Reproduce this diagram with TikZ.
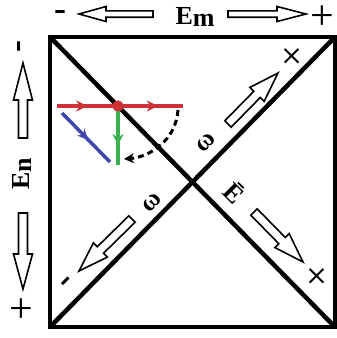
\documentclass[tikz,border=0pt]{standalone}
\usepackage{fontspec}
\setmainfont{Liberation Serif}
\usetikzlibrary{arrows.meta,decorations.markings}
\definecolor{rd}{RGB}{205,50,55}
\definecolor{gn}{RGB}{60,175,80}
\definecolor{bl}{RGB}{65,70,170}
\newcommand\blockarr[7]{%
  \pgfmathsetmacro\bang{atan2(-(#4-#2),#3-#1)}%
  \pgfmathsetmacro\blen{veclen(#3-#1,#4-#2)}%
  \pgfmathsetmacro\bhb{\blen-#7}%
  \begin{scope}[shift={(#1,#2)},rotate=\bang]
    \draw[blk] (0pt,#5pt) -- (\bhb pt,#5pt) -- (\bhb pt,#6pt) -- (\blen pt,0pt)
      -- (\bhb pt,-#6pt) -- (\bhb pt,-#5pt) -- (0pt,-#5pt) -- cycle;
  \end{scope}}
\begin{document}
\begin{tikzpicture}[x=1pt,y=-1pt,
  frame/.style={line width=4.5pt,line join=miter},
  blk/.style={draw,line width=1.6pt,fill=white,line join=miter},
  sign/.style={font=\bfseries\fontsize{36}{36}\selectfont,inner sep=0pt},
  plus/.style={font=\fontsize{42}{42}\selectfont,inner sep=0pt},
  lab/.style={font=\bfseries\fontsize{26}{26}\selectfont,inner sep=0pt},
  omg/.style={font=\bfseries\fontsize{26}{26}\selectfont,inner sep=0pt},
  tip/.style={decoration={markings,#1},postaction=decorate}]
\useasboundingbox (0,0) rectangle (337,338);
\fill[white] (0,0) rectangle (337,338);
% frame
\coordinate (TL) at (50,37);
\coordinate (TR) at (335,37);
\coordinate (BL) at (50,327);
\coordinate (BR) at (335,327);
\draw[frame] (TL) rectangle (BR);
\draw[frame] (TL) -- (BR);
\draw[frame] (BL) -- (TR);
% top axis
\node[sign] (mt) at (60,15) {-};
\blockarr{153}{14}{79}{14}{3.2}{7.5}{27}
\node[lab] (Em) at (195,17) {E\raisebox{-2pt}{m}};
\blockarr{228}{14}{306}{14}{3.2}{7.5}{29}
\node[plus] (pt) at (322,18) {+};
% left axis
\node[sign,rotate=90] (ml) at (22,47) {-};
\blockarr{23}{138}{23}{63}{4.5}{9.5}{37}
\node[lab,rotate=90] (En) at (22,174) {E\raisebox{-2pt}{n}};
\blockarr{23}{213}{23}{289}{4.5}{9.5}{35}
\node[plus] (pl) at (21,311) {+};
% diagonal arrows
\blockarr{228}{124}{278}{73}{4.5}{10}{30}
\node[plus,rotate=45] (pur) at (293,58) {+};
\node[omg,rotate=45] (w1) at (206,143) {ω};
\blockarr{132}{219}{79}{271}{4.5}{10}{30}
\node[sign,rotate=45] (mll) at (68,284) {-};
\node[omg,rotate=45] (w2) at (152,203) {ω};
\node[lab,rotate=-45] (Eb) at (235,192) {Ē};
\blockarr{254}{212}{303}{262}{4.5}{10}{30}
\node[plus,rotate=45] (plr) at (318,278) {+};
% coloured vectors
\coordinate (r1) at (57,106);
\coordinate (r2) at (183,106);
\coordinate (g2) at (118,165);
\coordinate (b1) at (62,113);
\coordinate (b2) at (110,162);
\node[circle,fill=rd,minimum size=11pt,inner sep=0pt] (dot) at (118,106) {};
\draw[gn,line width=4pt,tip={mark=at position 0.66 with {\arrow{Stealth[length=11pt,width=11pt]}}}] (dot.center) -- (g2);
\draw[bl,line width=3.5pt,tip={mark=at position 0.55 with {\arrow{Stealth[length=11pt,width=10pt]}}}] (b1) -- (b2);
\draw[rd,line width=4pt,tip={mark=at position 0.24 with {\arrow{Stealth[length=11pt,width=11pt]}},mark=at position 0.80 with {\arrow{Stealth[length=11pt,width=11pt]}}}] (r1) -- (r2);
\fill[rd] (dot) circle (5.5pt);
% dashed curved arrow
\coordinate (d1) at (178,110);
\coordinate (d2) at (124,159);
\draw[line width=3pt,dash pattern=on 6pt off 4pt,-{Stealth[length=10pt,width=10pt]}] (d1) .. controls (176,140) and (150,157) .. (d2);
\end{tikzpicture}
\end{document}
